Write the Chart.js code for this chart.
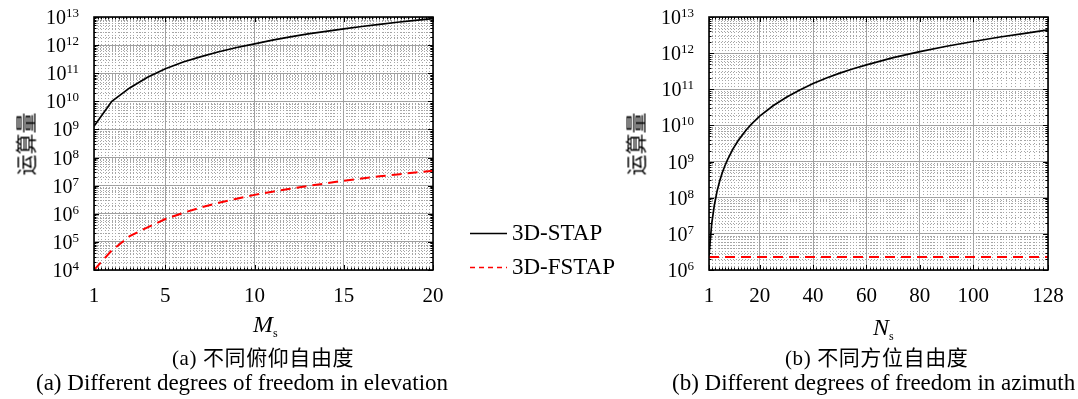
<!DOCTYPE html>
<html>
<head>
<meta charset="utf-8">
<script src="https://cdn.jsdelivr.net/npm/chart.js@4.4.1/dist/chart.umd.min.js"></script>
<style>
body { margin: 0; background: #fff; }
#wrap { position: relative; width: 1078px; height: 399px; overflow: hidden; font-family: "Liberation Serif", serif; color: #000; }
canvas { position: absolute; left: 0; top: 0; }
.t { position: absolute; white-space: nowrap; line-height: 1; }
.cjk { font-family: "Noto Sans CJK SC", sans-serif; }
.ytitle { transform: translate(-50%, -50%) rotate(-90deg); }
.sub { font-size: 12px; position: relative; top: 5px; }
</style>
</head>
<body>
<div id="wrap">
  <canvas id="chartA" width="1078" height="399"></canvas>
  <canvas id="chartB" width="1078" height="399"></canvas>

  <div class="t cjk ytitle" style="left:25px; top:144px; font-size:21px;">运算量</div>
  <div class="t cjk ytitle" style="left:635px; top:144px; font-size:21px;">运算量</div>

  <div class="t" style="left:253px; top:312px; font-size:24px;"><i>M</i><span class="sub">s</span></div>
  <div class="t" style="left:873px; top:315px; font-size:24px;"><i>N</i><span class="sub">s</span></div>

  <div id="legend"></div>

  <div class="t" style="left:172px; top:346px; font-size:21px; letter-spacing:0.6px;">(a) <span class="cjk">不同俯仰自由度</span></div>
  <div class="t" style="left:36px; top:371px; font-size:23px;">(a) Different degrees of freedom in elevation</div>
  <div class="t" style="left:785px; top:346px; font-size:21px; letter-spacing:0.6px;">(b) <span class="cjk">不同方位自由度</span></div>
  <div class="t" style="left:672px; top:371px; font-size:23px;">(b) Different degrees of freedom in azimuth</div>
</div>

<script>
// 图(a)：俯仰自由度 Ms
const elevDof = [1, 2, 3, 4, 5, 6, 7, 8, 9, 10, 11, 12, 13, 14, 15, 16, 17, 18, 19, 20];
const stapElev = [1.3e9, 1.0e10, 3.0e10, 7.2e10, 1.45e11, 2.5e11, 3.9e11, 5.8e11, 8.2e11, 1.1e12,
                  1.5e12, 1.95e12, 2.5e12, 3.1e12, 3.8e12, 4.6e12, 5.5e12, 6.5e12, 7.6e12, 8.8e12];
const fstapElev = [1.0e4, 5.0e4, 1.6e5, 3.3e5, 6.5e5, 1.08e6, 1.69e6, 2.47e6, 3.45e6, 4.7e6,
                   6.1e6, 7.8e6, 9.8e6, 1.2e7, 1.5e7, 1.8e7, 2.15e7, 2.5e7, 2.95e7, 3.4e7];

// 图(b)：方位自由度 Ns
const aziDof = [1, 2, 3, 4, 5, 6, 7, 8, 10, 12, 15, 17, 20, 25, 30, 35, 40, 45, 50, 55, 60,
                70, 80, 90, 100, 110, 120, 128];
const stapAzi = [2.5e6, 1.9e7, 6.2e7, 1.5e8, 2.9e8, 5.0e8, 7.8e8, 1.15e9, 2.25e9, 3.9e9, 7.6e9, 1.1e10,
                 1.8e10, 3.5e10, 6.0e10, 9.5e10, 1.45e11, 2.05e11, 2.8e11, 3.7e11, 4.75e11,
                 7.5e11, 1.1e12, 1.55e12, 2.1e12, 2.8e12, 3.6e12, 4.4e12];
const fstapAzi = [2.3e6, 2.3e6, 2.3e6, 2.3e6, 2.3e6, 2.3e6, 2.3e6, 2.3e6, 2.3e6, 2.3e6, 2.3e6, 2.3e6,
                  2.3e6, 2.3e6, 2.3e6, 2.3e6, 2.3e6, 2.3e6, 2.3e6, 2.3e6, 2.3e6,
                  2.3e6, 2.3e6, 2.3e6, 2.3e6, 2.3e6, 2.3e6, 2.3e6];

const seriesNames = ['3D-STAP', '3D-FSTAP'];

// 刻度
const xTicksElev = [1, 5, 10, 15, 20];
const xTicksAzi = [1, 20, 40, 60, 80, 100, 128];
const yExpElev = [4, 5, 6, 7, 8, 9, 10, 11, 12, 13];
const yExpAzi = [6, 7, 8, 9, 10, 11, 12, 13];

function toPoints(xs, ys) {
    return xs.map((x, i) => ({ x: x, y: ys[i] }));
}

// 次网格位置
function minorXValues(majors, opts) {
    const out = [];
    for (let i = 0; i < majors.length - 1; i++) {
        const a = majors[i], b = majors[i + 1];
        const n = opts.minorDiv || Math.round((b - a) / opts.minorStep);
        for (let k = 1; k < n; k++) out.push(a + (b - a) * k / n);
    }
    return out;
}

function minorYValues(exps) {
    const out = [];
    for (let i = 0; i < exps.length - 1; i++) {
        for (let m = 2; m <= 9; m++) out.push(m * Math.pow(10, exps[i]));
    }
    return out;
}

// 网格、边框和刻度标签
const decoPlugin = {
    id: 'deco',
    beforeDatasetsDraw(chart, args, opts) {
        const { ctx, chartArea: a } = chart;
        const xs = chart.scales.x, ys = chart.scales.y;
        ctx.save();
        ctx.strokeStyle = '#a6a6a6';
        ctx.lineWidth = 1;
        ctx.setLineDash([1, 2]);
        ctx.beginPath();
        minorXValues(opts.xTicks, opts).forEach(v => {
            const px = Math.round(xs.getPixelForValue(v)) + 0.5;
            ctx.moveTo(px, a.top); ctx.lineTo(px, a.bottom);
        });
        minorYValues(opts.yExps).forEach(v => {
            const py = Math.round(ys.getPixelForValue(v)) + 0.5;
            ctx.moveTo(a.left, py); ctx.lineTo(a.right, py);
        });
        ctx.stroke();
        ctx.restore();
    },
    afterDraw(chart, args, opts) {
        const { ctx, chartArea: a } = chart;
        const xs = chart.scales.x, ys = chart.scales.y;
        ctx.save();
        // 刻度线
        ctx.strokeStyle = '#000';
        ctx.lineWidth = 1;
        ctx.beginPath();
        const tickX = (v, len) => {
            const px = Math.round(xs.getPixelForValue(v)) + 0.5;
            ctx.moveTo(px, a.bottom); ctx.lineTo(px, a.bottom - len);
            ctx.moveTo(px, a.top); ctx.lineTo(px, a.top + len);
        };
        const tickY = (v, len) => {
            const py = Math.round(ys.getPixelForValue(v)) + 0.5;
            ctx.moveTo(a.left, py); ctx.lineTo(a.left + len, py);
            ctx.moveTo(a.right, py); ctx.lineTo(a.right - len, py);
        };
        opts.xTicks.forEach(v => tickX(v, 5));
        minorXValues(opts.xTicks, opts).forEach(v => tickX(v, 2.5));
        opts.yExps.forEach(e => tickY(Math.pow(10, e), 5));
        minorYValues(opts.yExps).forEach(v => tickY(v, 2.5));
        ctx.stroke();
        // 边框
        ctx.lineWidth = 1.6;
        ctx.strokeRect(a.left, a.top, a.right - a.left, a.bottom - a.top);

        // y 轴标签 10^n
        ctx.fillStyle = '#000';
        ctx.textBaseline = 'alphabetic';
        opts.yExps.forEach(e => {
            const py = ys.getPixelForValue(Math.pow(10, e));
            const exp = String(e);
            ctx.font = opts.supFont;
            const wExp = ctx.measureText(exp).width;
            ctx.font = opts.baseFont;
            const wBase = ctx.measureText('10').width;
            const xEnd = a.left - opts.yGap;
            ctx.fillText('10', xEnd - wExp - wBase, py + 7);
            ctx.font = opts.supFont;
            ctx.fillText(exp, xEnd - wExp, py);
        });

        // x 轴标签
        ctx.font = opts.xFont;
        ctx.textAlign = 'center';
        opts.xTicks.forEach(v => {
            ctx.fillText(String(v), xs.getPixelForValue(v), 302);
        });
        ctx.restore();
    }
};

function makeChart(id, xVals, stap, fstap, cfg) {
    return new Chart(document.getElementById(id), {
        type: 'line',
        data: {
            datasets: [{
                label: seriesNames[0],
                data: toPoints(xVals, stap),
                borderColor: '#000',
                borderWidth: 1.7,
                pointRadius: 0,
                tension: 0
            }, {
                label: seriesNames[1],
                data: toPoints(xVals, fstap),
                borderColor: '#ff0000',
                borderWidth: 2,
                borderDash: [10, 6],
                pointRadius: 0,
                tension: 0
            }]
        },
        options: {
            responsive: false,
            animation: false,
            devicePixelRatio: 1,
            layout: { padding: cfg.padding },
            plugins: {
                legend: { display: false },
                tooltip: { enabled: false },
                deco: cfg.deco
            },
            scales: {
                x: {
                    type: 'linear',
                    min: cfg.xMin,
                    max: cfg.xMax,
                    afterBuildTicks: axis => { axis.ticks = cfg.deco.xTicks.map(v => ({ value: v })); },
                    ticks: { display: false },
                    grid: { color: '#a0a0a0', lineWidth: 1, drawTicks: false },
                    border: { display: false }
                },
                y: {
                    type: 'logarithmic',
                    min: Math.pow(10, cfg.deco.yExps[0]),
                    max: Math.pow(10, cfg.deco.yExps[cfg.deco.yExps.length - 1]),
                    afterBuildTicks: axis => { axis.ticks = cfg.deco.yExps.map(e => ({ value: Math.pow(10, e) })); },
                    ticks: { display: false },
                    grid: { color: '#a0a0a0', lineWidth: 1, drawTicks: false },
                    border: { display: false }
                }
            }
        },
        plugins: [decoPlugin]
    });
}

makeChart('chartA', elevDof, stapElev, fstapElev, {
    padding: { left: 94, top: 17, right: 1078 - 433, bottom: 399 - 270 },
    xMin: 1, xMax: 20,
    deco: {
        xTicks: xTicksElev, yExps: yExpElev, minorStep: 0.2,
        baseFont: '20px "Liberation Serif"', supFont: '13px "Liberation Serif"',
        xFont: '21px "Liberation Serif"', yGap: 15
    }
});

makeChart('chartB', aziDof, stapAzi, fstapAzi, {
    padding: { left: 709, top: 17, right: 1078 - 1048, bottom: 399 - 270 },
    xMin: 1, xMax: 128,
    deco: {
        xTicks: xTicksAzi, yExps: yExpAzi, minorDiv: 16,
        baseFont: '20px "Liberation Serif"', supFont: '13px "Liberation Serif"',
        xFont: '21px "Liberation Serif"', yGap: 15
    }
});

// 图例
const legendStyles = [
    { color: '#000', dash: '' },
    { color: '#ff0000', dash: '5,4' }
];
const legend = document.getElementById('legend');
seriesNames.forEach((name, i) => {
    const top = 221 + i * 34;
    const s = legendStyles[i];
    legend.innerHTML +=
        '<svg style="position:absolute;left:470px;top:' + (top + 11) + 'px" width="37" height="3">' +
        '<line x1="0" y1="1.5" x2="37" y2="1.5" stroke="' + s.color + '" stroke-width="1.6" stroke-dasharray="' + s.dash + '"/></svg>' +
        '<div class="t" style="left:512px;top:' + top + 'px;font-size:23px;">' + name + '</div>';
});
</script>
</body>
</html>
